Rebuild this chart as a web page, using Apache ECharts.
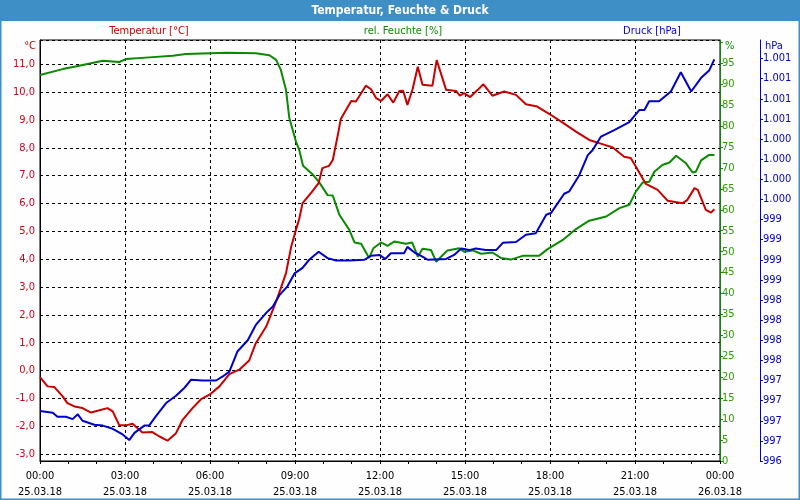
<!DOCTYPE html>
<html><head><meta charset="utf-8">
<script src="https://cdn.jsdelivr.net/npm/echarts@6/dist/echarts.min.js"></script>
<style>html,body{margin:0;padding:0;background:#fdfefd}#c{width:800px;height:500px}</style>
</head><body><div id="c"></div>
<script>
// minutes since 25.03.18 00:00
const tempMin = [0,16,30,48,58,73,90,108,126,143,154,168,182,196,217,238,253,270,288,302,323,341,359,380,401,422,443,457,479,496,510,521,532,542,549,556,575,590,598,612,620,630,637,659,669,690,701,712,722,736,748,761,769,778,789,800,810,831,840,860,881,889,898,911,927,939,958,983,1008,1029,1053,1078,1107,1135,1163,1191,1213,1237,1251,1262,1283,1308,1329,1361,1371,1386,1393,1410,1421,1428];
const tempVal = [-0.24,-0.57,-0.59,-0.93,-1.17,-1.29,-1.35,-1.51,-1.43,-1.35,-1.47,-1.97,-1.97,-1.91,-2.23,-2.21,-2.37,-2.52,-2.25,-1.77,-1.35,-1.03,-0.87,-0.57,-0.13,0.03,0.36,0.98,1.58,2.30,2.96,3.50,4.45,5.05,5.45,6.01,6.40,6.73,7.27,7.35,7.56,8.40,9.03,9.68,9.66,10.23,10.10,9.78,9.68,9.92,9.62,10.04,10.05,9.54,10.10,10.91,10.26,10.23,11.15,10.08,10.04,9.87,9.96,9.82,10.08,10.28,9.87,10.02,9.90,9.56,9.48,9.22,8.90,8.58,8.28,8.13,8.01,7.68,7.63,7.32,6.70,6.49,6.10,6.01,6.13,6.55,6.49,5.77,5.67,5.79];

const humMin = [0,48,83,133,168,182,231,281,309,394,457,486,500,510,521,528,542,549,557,577,591,609,620,634,655,666,680,697,706,722,736,750,775,788,800,810,828,839,853,863,888,898,916,934,958,976,997,1022,1057,1075,1107,1135,1163,1199,1227,1248,1262,1276,1290,1301,1318,1333,1347,1368,1382,1389,1400,1417,1428];
const humVal = [92.2,93.6,94.4,95.6,95.3,96.0,96.4,96.8,97.2,97.5,97.4,96.9,95.8,93.4,88.6,81.9,76.3,74.3,70.5,68.5,66.6,63.5,63.4,58.8,55.2,52.2,51.9,48.5,50.8,52.2,51.4,52.4,51.9,52.2,48.8,50.7,50.4,47.6,49.2,50.3,50.8,50.0,50.3,49.5,49.8,48.5,48.1,49.0,49.0,50.6,52.8,55.4,57.4,58.4,60.4,61.2,64.4,66.5,66.7,69.1,70.7,71.3,72.9,71.1,68.9,69.1,71.8,73.1,73.1];

const presMin = [0,27,37,55,69,80,90,115,133,154,175,189,200,221,231,246,267,288,306,320,344,373,387,401,418,440,457,479,493,507,524,539,556,570,590,609,627,655,687,701,719,731,743,771,778,793,810,821,860,877,892,909,923,944,966,980,1008,1029,1050,1072,1082,1110,1121,1142,1160,1170,1188,1216,1248,1269,1280,1290,1311,1336,1357,1379,1400,1417,1428];
const presVal = [996.62,996.60,996.55,996.55,996.52,996.58,996.50,996.45,996.44,996.40,996.33,996.26,996.35,996.44,996.44,996.56,996.72,996.81,996.91,997.01,997.00,997.00,997.05,997.11,997.36,997.50,997.69,997.84,997.92,998.06,998.17,998.33,998.40,998.50,998.60,998.52,998.49,998.49,998.50,998.55,998.56,998.51,998.58,998.58,998.66,998.59,998.54,998.50,998.51,998.56,998.64,998.62,998.64,998.62,998.62,998.71,998.72,998.81,998.83,999.06,999.08,999.32,999.35,999.55,999.80,999.86,1000.03,1000.11,1000.21,1000.36,1000.36,1000.47,1000.47,1000.59,1000.83,1000.59,1000.76,1000.85,1000.99];

const xTickLabels = ['00:00\n25.03.18','03:00\n25.03.18','06:00\n25.03.18','09:00\n25.03.18','12:00\n25.03.18','15:00\n25.03.18','18:00\n25.03.18','21:00\n25.03.18','00:00\n26.03.18'];
const seriesNames = ['Temperatur [°C]','rel. Feuchte [%]','Druck [hPa]'];

const FONT = "'DejaVu Sans Condensed','Liberation Sans',sans-serif";
const RED = '#c80000', GREEN = '#0a8a00', BLUE = '#0000cc';
const zip = (a,b) => a.map((v,i)=>[v,b[i]]);

const chart = echarts.init(document.getElementById('c'), null, {renderer:'canvas'});
chart.setOption({
  animation:false,
  backgroundColor:'#fdfefd',
  textStyle:{fontFamily:FONT},
  grid:{left:40,top:40,width:680,height:421,show:true,borderColor:'#000',borderWidth:1,backgroundColor:'transparent'},
  graphic:[
    {type:'rect',shape:{x:0,y:0,width:800,height:21},style:{fill:'#3d8fc6'},silent:true},
    {type:'rect',shape:{x:0.5,y:0.5,width:799,height:499},style:{fill:null,stroke:'#3d8fc6',lineWidth:2},silent:true},
    {type:'text',x:400,y:11,style:{text:'Temperatur, Feuchte & Druck',fill:'#fff',font:"bold 12px "+FONT,textAlign:'center',textVerticalAlign:'middle'}},
    {type:'text',x:149,y:31,style:{text:seriesNames[0],fill:RED,font:"11px "+FONT,textAlign:'center',textVerticalAlign:'middle'}},
    {type:'text',x:403,y:31,style:{text:seriesNames[1],fill:GREEN,font:"11px "+FONT,textAlign:'center',textVerticalAlign:'middle'}},
    {type:'text',x:652,y:31,style:{text:seriesNames[2],fill:BLUE,font:"11px "+FONT,textAlign:'center',textVerticalAlign:'middle'}},
    {type:'text',x:36,y:46,style:{text:'°C',fill:RED,font:"11px "+FONT,textAlign:'right',textVerticalAlign:'middle'}},
    {type:'text',x:725,y:46,style:{text:'%',fill:GREEN,font:"11px "+FONT,textAlign:'left',textVerticalAlign:'middle'}},
    {type:'text',x:765,y:46,style:{text:'hPa',fill:BLUE,font:"11px "+FONT,textAlign:'left',textVerticalAlign:'middle'}}
  ],
  xAxis:{
    type:'value',min:0,max:1440,interval:180,
    axisLine:{onZero:false,lineStyle:{color:'#000',width:1}},
    axisTick:{show:true,length:3,lineStyle:{color:'#000'}},
    minorTick:{show:true,splitNumber:3,length:3,lineStyle:{color:'#000'}},
    axisLabel:{color:'#000',fontSize:11,fontFamily:FONT,lineHeight:16,margin:7,
      formatter:v=>xTickLabels[Math.round(v/180)]},
    splitLine:{show:true,lineStyle:{color:'#000',type:[3,3],width:1}}
  },
  yAxis:[
    {type:'value',position:'left',min:-3.25,max:11.87,splitNumber:15,
      axisLine:{show:true,onZero:false,lineStyle:{color:'#000'}},
      axisTick:{show:false},
      axisLabel:{color:'#d0001a',fontSize:11,fontFamily:FONT,margin:5,showMinLabel:false,showMaxLabel:false,
        formatter:v=>(Math.abs(v)<1e-9?0:v).toFixed(1).replace('.',',')},
      splitLine:{show:true,lineStyle:{color:'#000',type:[3,3],width:1}}
    },
    {type:'value',position:'right',min:0,max:100.55,interval:5,
      axisLine:{show:true,onZero:false,lineStyle:{color:GREEN}},
      axisTick:{show:true,length:3,lineStyle:{color:GREEN}},
      axisLabel:{color:'#2f9a00',fontSize:11,fontFamily:FONT,margin:2,showMaxLabel:false,
        formatter:v=>(v>97?'':String(v))},
      splitLine:{show:false}
    },
    {type:'value',position:'right',offset:40,min:996,max:1001.23,interval:0.25,
      axisLine:{show:true,onZero:false,lineStyle:{color:BLUE}},
      axisTick:{show:true,length:3,lineStyle:{color:BLUE}},
      axisLabel:{color:BLUE,fontSize:11,fontFamily:FONT,margin:3,showMaxLabel:false,
        formatter:v=>{const n=Math.ceil(v-1e-9);return n>=1000?String(Math.floor(n/1000))+'.'+String(n%1000).padStart(3,'0'):String(n);}},
      splitLine:{show:false}
    }
  ],
  series:[
    {name:seriesNames[0],type:'line',yAxisIndex:0,data:zip(tempMin,tempVal),showSymbol:false,lineStyle:{color:RED,width:2},itemStyle:{color:RED},z:3},
    {name:seriesNames[1],type:'line',yAxisIndex:1,data:zip(humMin,humVal),showSymbol:false,lineStyle:{color:GREEN,width:2},itemStyle:{color:GREEN},z:2},
    {name:seriesNames[2],type:'line',yAxisIndex:2,data:zip(presMin,presVal),showSymbol:false,lineStyle:{color:BLUE,width:2},itemStyle:{color:BLUE},z:4}
  ]
});
</script></body></html>
